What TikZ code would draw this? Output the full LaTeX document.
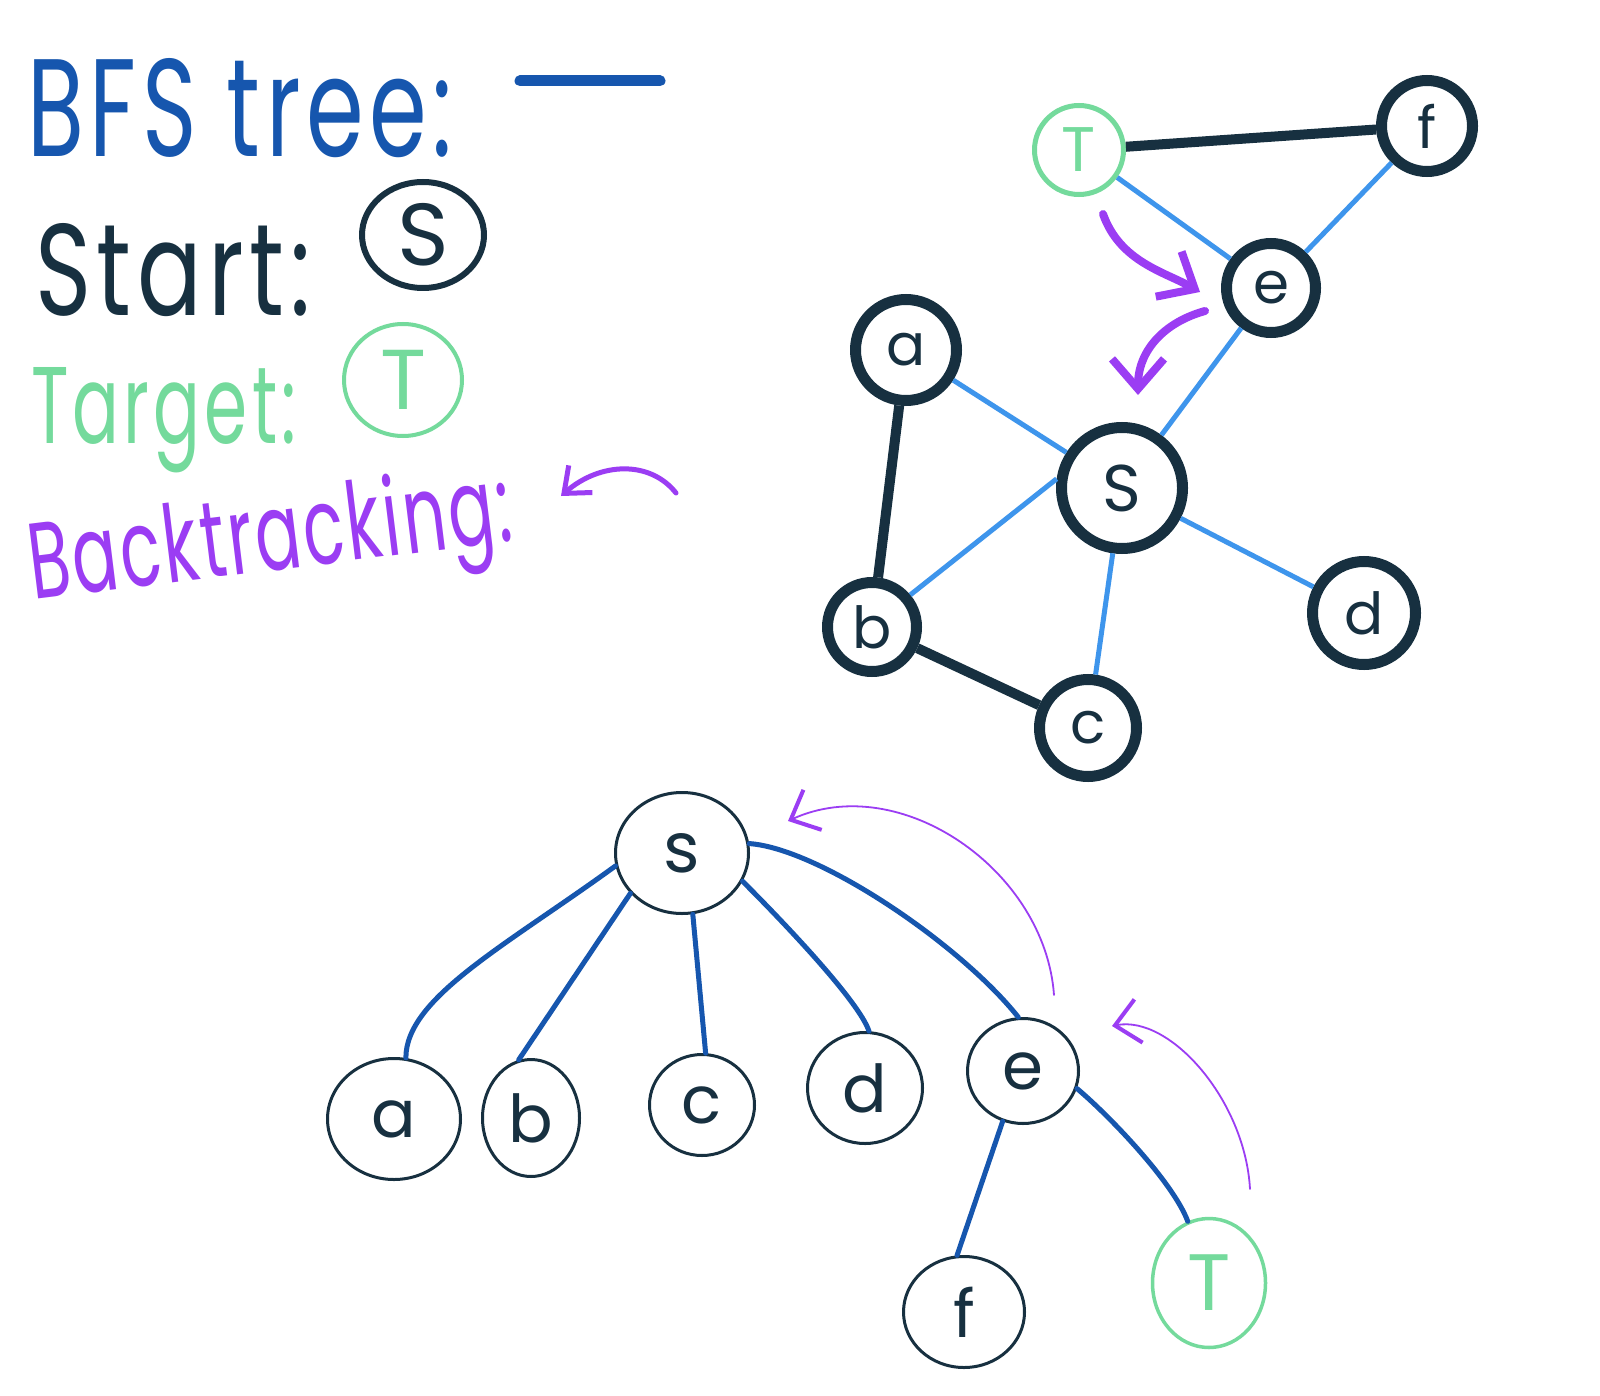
\documentclass[tikz,border=0pt]{standalone}
\usepackage{fontspec}
\setmainfont{Poppins}
\usepackage{graphicx}
\usetikzlibrary{shapes.geometric,arrows.meta}
\definecolor{dk}{HTML}{173040}
\definecolor{lightblue}{HTML}{3E95EC}
\definecolor{treeblue}{HTML}{1656AE}
\definecolor{gr}{HTML}{74DA9C}
\definecolor{pp}{HTML}{9B3DF3}
\begin{document}
\begin{tikzpicture}[x=1pt,y=-1pt,
  gnode/.style={circle,draw=dk,line width=11pt,inner sep=0pt,text=dk,font=\fontsize{58}{58}\selectfont},
  tnode/.style={ellipse,draw=dk,line width=3pt,inner sep=0pt,text=dk,font=\fontsize{66}{66}\selectfont},
  hardedge/.style={draw=dk,line width=10pt},
  softedge/.style={draw=lightblue,line width=5pt},
  treeedge/.style={draw=treeblue,line width=5pt,line cap=round},
  bigback/.style={draw=pp,line width=8pt,line cap=round,-{Straight Barb[length=30pt,width=52pt,line width=8pt]}},
  thinback/.style={draw=pp,line width=1.8pt,line cap=round,-{Straight Barb[length=24pt,width=44pt,line width=4pt]}},
  legback/.style={draw=pp,line width=5pt,line cap=round,-{Straight Barb[length=22pt,width=36pt,line width=5pt]}},
  legtext/.style={anchor=base west,inner sep=0pt}
]
\fill[white] (0,0) rectangle (1600,1396);
\useasboundingbox (0,0) rectangle (1600,1396);

% legend
\node[legtext,text=treeblue] (lbfs) at (27,157) {\resizebox{425pt}{98pt}{\addfontfeatures{LetterSpace=6}BFS tree:}};
\coordinate (bl1) at (520,81);
\coordinate (bl2) at (660,81);
\draw[treeblue,line width=11pt,line cap=round] (bl1) -- (bl2);
\node[legtext,text=dk] (lstart) at (35,316) {\resizebox{275pt}{92pt}{\addfontfeatures{LetterSpace=6}Start:}};
\node[ellipse,draw=dk,line width=6pt,minimum width=122pt,minimum height=106pt,inner sep=0pt,text=dk,font=\fontsize{88}{88}\selectfont] (lS) at (423,235) {S};
\node[legtext,text=gr] (ltarget) at (31,443) {\resizebox{265pt}{76pt}{\addfontfeatures{LetterSpace=6}Target:}};
\node[ellipse,draw=gr,line width=4pt,minimum width=118pt,minimum height=112pt,inner sep=0pt,text=gr,font=\fontsize{85}{85}\selectfont] (lT) at (403,380) {T};
\node[legtext,text=pp,rotate=7] (lback) at (33,600) {\resizebox{485pt}{82pt}{\addfontfeatures{LetterSpace=4}Backtracking:}};
\coordinate (r1s) at (676,493);
\coordinate (r1e) at (561,496);
\draw[legback] (r1s) .. controls (650,460) and (600,462) .. (r1e);

% graph
\node[gnode,minimum size=89pt,draw=gr,line width=5pt,text=gr,font=\fontsize{63}{63}\selectfont] (gT) at (1079,150) {T};
\node[gnode,minimum size=91pt] (gf) at (1427,126) {f};
\node[gnode,minimum size=89pt] (ge) at (1271,288) {e};
\node[gnode,minimum size=101pt] (ga) at (906,350) {a};
\node[gnode,minimum size=121pt,font=\fontsize{66}{66}\selectfont] (gS) at (1122,488) {S};
\node[gnode,minimum size=89pt] (gb) at (872,627) {b};
\node[gnode,minimum size=103pt] (gd) at (1364,613) {d};
\node[gnode,minimum size=97pt] (gc) at (1088,728) {c};

\draw[hardedge] (gT) -- (gf);
\draw[hardedge] (ga) -- (gb);
\draw[hardedge] (gb) -- (gc);
\draw[softedge] (gT) -- (ge);
\draw[softedge] (gf) -- (ge);
\draw[softedge] (ge) -- (gS);
\draw[softedge] (ga) -- (gS);
\draw[softedge] (gS.172) -- (gb.40);
\draw[softedge] (gS) -- (gc);
\draw[softedge] (gS) -- (gd);

\coordinate (p1s) at (1103,214);
\coordinate (p1e) at (1200,292);
\draw[bigback] (p1s) .. controls (1120,262) and (1165,272) .. (p1e);
\coordinate (p2s) at (1205,311);
\coordinate (p2e) at (1138,395);
\draw[bigback] (p2s) .. controls (1165,322) and (1138,350) .. (p2e);

% tree
\node[tnode,minimum width=133pt,minimum height=121pt,font=\fontsize{70}{70}\selectfont] (ts) at (682,853) {s};
\node[tnode,minimum width=133pt,minimum height=121pt] (ta) at (394,1119) {a};
\node[tnode,minimum width=97pt,minimum height=117pt] (tb) at (531,1118) {b};
\node[tnode,minimum width=105pt,minimum height=101pt] (tc) at (702,1105) {c};
\node[tnode,minimum width=115pt,minimum height=111pt] (td) at (865,1088) {d};
\node[tnode,minimum width=111pt,minimum height=105pt] (te) at (1023,1071) {e};
\node[tnode,minimum width=121pt,minimum height=111pt] (tf) at (964,1312) {f};
\node[tnode,minimum width=113pt,minimum height=129pt,draw=gr,line width=3.5pt,text=gr,font=\fontsize{80}{80}\selectfont] (tT) at (1209,1283) {T};

\draw[treeedge] (ts.191) .. controls +(-110,80) and +(0,-60) .. (ta.79);
\draw[treeedge] (ts.218) -- (tb.102);
\draw[treeedge] (ts.280) -- (tc.86);
\draw[treeedge] (ts.335) .. controls +(40,40) and +(-10,-30) .. (td.86);
\draw[treeedge] (ts.8) .. controls +(70,5) and +(-58,-73) .. (te.95);
\draw[treeedge] (te.248) -- (tf.97);
\draw[treeedge] (te.342) .. controls +(30,25) and +(-15,-40) .. (tT.109);

\coordinate (q1s) at (1054,995);
\coordinate (q1e) at (788,821);
\draw[thinback] (q1s) .. controls (1045,870) and (900,770) .. (q1e);
\coordinate (q2s) at (1250,1189);
\coordinate (q2e) at (1112,1026);
\draw[thinback] (q2s) .. controls (1245,1100) and (1170,1015) .. (q2e);
\end{tikzpicture}
\end{document}
